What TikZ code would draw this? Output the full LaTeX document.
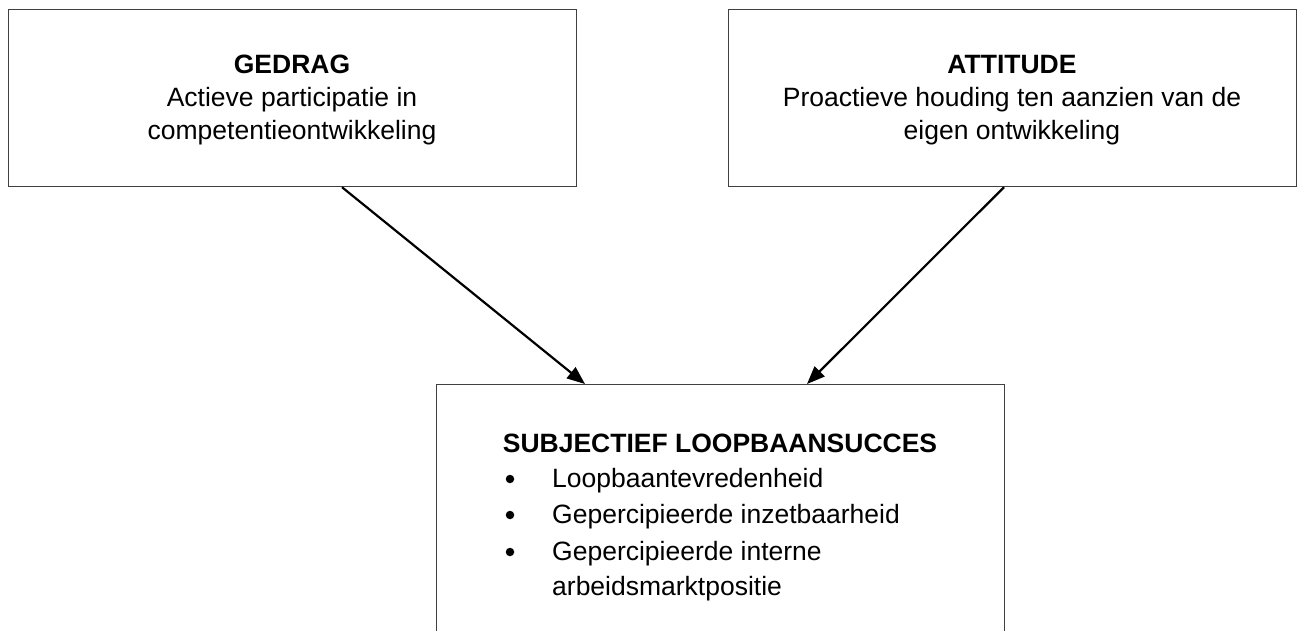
\documentclass[tikz,border=0pt]{standalone}
\usepackage{fontspec}
\setmainfont{Liberation Sans}
\usetikzlibrary{calc,arrows.meta}
\begin{document}
\begin{tikzpicture}[x=1pt,y=-1pt,
  box/.style={draw=black!75, line width=1.2pt, rectangle, inner sep=0pt, anchor=north west},
  txt/.style={font=\fontsize{26.5}{33}\selectfont, inner sep=0pt, anchor=base},
  hd/.style={txt, font=\fontsize{26.5}{33}\selectfont\bfseries},
  item/.style={txt, anchor=base west},
  bul/.style={circle, fill=black, inner sep=0pt, minimum size=8.5pt},
  conn/.style={line width=2.2pt, -{Triangle[length=18pt,width=14pt]}}]
\clip (0,0) rectangle (1298,630);
\fill[white] (0,0) rectangle (1298,630);
% boxes
\node[box, minimum width=568pt, minimum height=177pt] (gedrag) at (8,9) {};
\node[box, minimum width=568pt, minimum height=177pt] (attitude) at (728,9) {};
\node[box, minimum width=568pt, minimum height=290pt] (sub) at (436,384) {};
% left box text
\node[hd] (g1) at (292,73) {GEDRAG};
\node[txt] (g2) at (292,106) {Actieve participatie in};
\node[txt] (g3) at (292,139) {competentieontwikkeling};
% right box text
\node[hd] (a1) at (1012,73) {ATTITUDE};
\node[txt] (a2) at (1012,106) {Proactieve houding ten aanzien van de};
\node[txt] (a3) at (1012,139) {eigen ontwikkeling};
% bottom box text
\node[hd] (s0) at (720,452) {SUBJECTIEF LOOPBAANSUCCES};
\node[bul] (b1) at (510,479) {};
\node[bul] (b2) at (510,515) {};
\node[bul] (b3) at (510,552) {};
\node[item] (s1) at (552,487) {Loopbaantevredenheid};
\node[item] (s2) at (552,523) {Gepercipieerde inzetbaarheid};
\node[item] (s3) at (552,560) {Gepercipieerde interne};
\node[item] (s4) at (552,595) {arbeidsmarktpositie};
% connectors
\draw[conn] ($(gedrag.south west)+(334,0)$) -- ($(sub.north west)+(149,0)$);
\draw[conn] ($(attitude.south west)+(276,0)$) -- ($(sub.north west)+(371,0)$);
\end{tikzpicture}
\end{document}
